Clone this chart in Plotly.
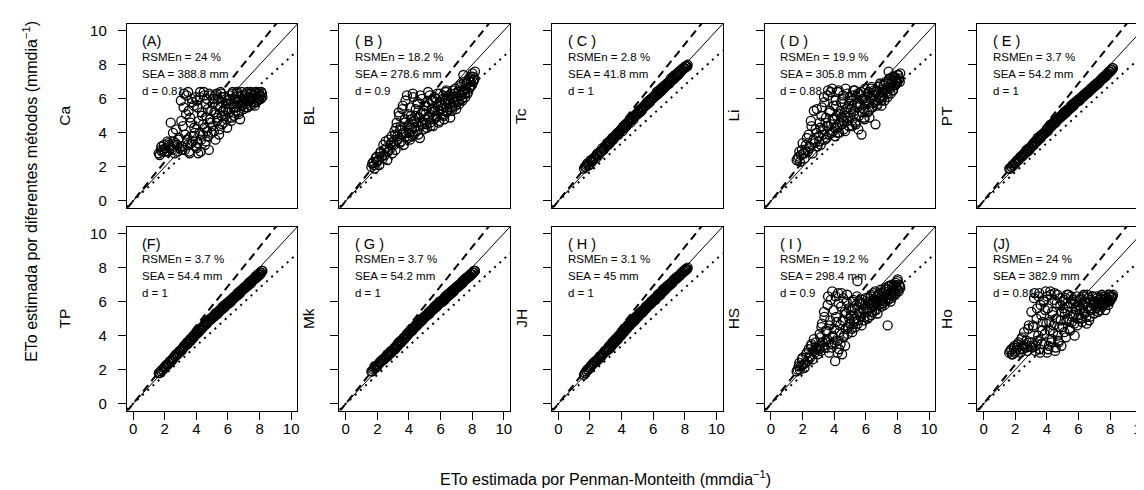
import plotly.graph_objects as go

# ETo Penman-Monteith (x, shared by all panels), two blocks of days
pm = [1.62, 1.75, 1.83, 1.95, 2.04, 2.12, 2.21, 2.33, 2.38, 2.47, 2.56, 2.63, 2.71, 2.78, 2.86, 2.94,
      3.02, 3.08, 3.15, 3.22, 3.27, 3.35, 3.41, 3.48, 3.55, 3.61, 3.68, 3.74, 3.81, 3.87, 3.93,
      4.01, 4.06, 4.12, 4.19, 4.24, 4.31, 4.37, 4.43, 4.5, 4.56, 4.62, 4.69, 4.75, 4.82, 4.88, 4.95,
      5.02, 5.08, 5.14, 5.21, 5.27, 5.34, 5.4, 5.47, 5.53, 5.6, 5.66, 5.73, 5.79, 5.86, 5.92, 5.98,
      6.04, 6.11, 6.17, 6.23, 6.3, 6.36, 6.42, 6.49, 6.55, 6.61, 6.68, 6.74, 6.8, 6.87, 6.93, 6.99,
      7.05, 7.12, 7.18, 7.25, 7.31, 7.38, 7.44, 7.51, 7.57, 7.63, 7.7, 7.76, 7.83, 7.89, 7.95, 8.02, 8.08, 8.15]
pm_b = [1.68, 1.79, 1.9, 2.0, 2.17, 2.27, 2.43, 2.52, 2.68, 2.82, 2.9,
        3.05, 3.12, 3.19, 3.3, 3.38, 3.45, 3.52, 3.58, 3.65, 3.71, 3.78, 3.84, 3.9, 3.97,
        4.03, 4.09, 4.15, 4.22, 4.28, 4.34, 4.4, 4.47, 4.53, 4.59, 4.66, 4.72, 4.79, 4.85, 4.92, 4.98,
        5.05, 5.11, 5.18, 5.24, 5.31, 5.37, 5.44, 5.5, 5.57, 5.63, 5.7, 5.76, 5.83, 5.89, 5.95,
        6.07, 6.14, 6.2, 6.27, 6.33, 6.39, 6.46, 6.52, 6.58, 6.65, 6.71, 6.77, 6.84, 6.9, 6.96,
        7.02, 7.09, 7.15, 7.22, 7.28, 7.35, 7.41, 7.48, 7.54, 7.6, 7.67, 7.73, 7.8, 7.86, 7.92, 7.98, 8.05, 8.11, 8.18]

ca = [2.8, 3.0, 2.9, 3.3, 3.1, 2.9, 3.4, 3.2, 4.6, 3.0, 3.5, 2.8, 4.2, 3.3, 3.6, 3.1,
      5.9, 3.2, 4.4, 6.3, 3.0, 5.1, 3.6, 6.4, 2.9, 4.9, 3.4, 5.8, 3.8, 4.3, 6.1,
      3.1, 5.5, 2.8, 4.0, 6.4, 3.6, 5.0, 4.5, 6.2, 3.3, 5.7, 4.1, 3.8, 6.3, 4.8, 5.3,
      4.4, 6.0, 5.2, 3.6, 6.3, 4.9, 5.6, 4.2, 6.4, 5.0, 5.8, 4.6, 6.1, 5.4, 4.8, 5.9,
      5.2, 6.2, 5.7, 4.9, 6.4, 5.5, 6.0, 5.3, 6.3, 5.8, 5.1, 6.1, 5.6, 6.4, 5.9, 5.4,
      6.0, 5.7, 6.3, 5.5, 6.1, 5.9, 6.4, 5.8, 6.2, 6.0, 5.6, 6.3, 6.1, 5.9, 6.4, 6.2, 6.0, 6.3]
ca_b = [2.7, 3.2, 3.0, 2.9, 3.5, 3.3, 3.1, 4.0, 3.4, 2.9, 3.7,
        4.7, 3.0, 5.5, 3.9, 6.2, 3.3, 5.3, 2.8, 4.6, 6.0, 3.5, 5.6, 4.0, 3.2,
        5.9, 3.4, 4.7, 6.1, 2.9, 5.2, 3.9, 6.4, 4.3, 3.5, 6.0, 5.4, 3.0, 4.6, 6.2, 4.0,
        5.7, 4.1, 6.2, 5.1, 4.7, 6.0, 3.9, 5.5, 6.3, 4.5, 5.3, 6.1, 5.0, 5.7, 4.3,
        6.0, 5.4, 4.7, 6.3, 5.7, 5.0, 6.1, 5.5, 6.4, 5.2, 5.9, 4.8, 6.2, 5.6, 6.0,
        5.8, 6.2, 5.5, 6.4, 5.9, 6.1, 5.6, 6.3, 6.0, 5.7, 6.2, 6.4, 5.8, 6.1, 6.3, 6.0, 6.2, 6.4, 6.1]
bl = [2.0, 2.3, 1.9, 2.6, 2.4, 2.1, 2.9, 2.5, 3.3, 2.7, 3.1, 2.4, 3.6, 3.0, 3.4, 2.8,
      3.5, 4.1, 3.0, 4.6, 3.8, 5.2, 3.4, 4.4, 3.9, 5.6, 3.3, 4.8, 4.0, 6.2, 3.7,
      4.5, 3.6, 5.0, 4.2, 6.3, 3.9, 4.7, 5.4, 4.1, 5.8, 4.4, 3.7, 5.1, 6.0, 4.6, 5.3,
      4.8, 5.6, 4.3, 6.4, 5.0, 4.6, 5.9, 5.2, 4.4, 6.1, 5.5, 4.9, 6.3, 5.3, 4.7, 5.8,
      5.6, 5.1, 6.2, 4.8, 5.9, 6.5, 5.3, 6.0, 5.7, 4.9, 6.3, 5.5, 6.1, 5.8, 6.6, 5.4,
      6.0, 6.4, 5.7, 6.8, 6.2, 5.9, 7.4, 6.5, 6.1, 6.9, 6.3, 7.1, 6.6, 7.3, 6.8, 7.5, 7.0, 7.2]
bl_b = [2.2, 2.1, 2.5, 2.3, 2.8, 2.6, 3.0, 3.5, 2.9, 3.3, 3.8,
        3.3, 3.9, 4.3, 3.6, 5.0, 4.2, 3.5, 5.4, 4.0, 4.6, 5.9, 3.8, 4.4, 5.1,
        4.0, 5.5, 4.8, 3.8, 6.1, 4.3, 5.0, 4.6, 5.7, 3.9, 4.9, 6.2, 4.5, 5.2, 4.2, 5.6,
        5.1, 4.5, 5.8, 4.9, 6.2, 4.4, 5.4, 5.9, 4.8, 5.3, 6.0, 5.0, 5.6, 4.6, 6.3,
        5.4, 6.0, 5.0, 5.7, 6.4, 5.2, 5.9, 6.2, 5.5, 6.1, 5.3, 6.5, 5.8, 6.3, 5.6,
        6.1, 5.8, 6.5, 6.2, 6.7, 6.0, 6.4, 7.0, 6.3, 6.6, 6.9, 6.4, 7.2, 6.7, 7.0, 6.8, 7.3, 7.1, 7.6]
tc = [1.9, 2.0, 2.2, 2.1, 2.4, 2.3, 2.5, 2.6, 2.5, 2.8, 2.7, 2.9, 2.9, 3.1, 3.0, 3.2,
      3.2, 3.4, 3.3, 3.5, 3.4, 3.6, 3.7, 3.6, 3.8, 3.8, 3.9, 4.0, 3.9, 4.1, 4.1,
      4.2, 4.1, 4.4, 4.3, 4.5, 4.4, 4.6, 4.6, 4.7, 4.6, 4.8, 4.9, 4.8, 5.0, 5.0, 5.1,
      5.1, 5.3, 5.2, 5.4, 5.3, 5.5, 5.5, 5.6, 5.6, 5.8, 5.7, 5.9, 5.8, 6.0, 6.0, 6.1,
      6.1, 6.2, 6.2, 6.4, 6.3, 6.5, 6.4, 6.6, 6.5, 6.7, 6.7, 6.8, 6.8, 6.9, 6.9, 7.0,
      7.0, 7.2, 7.1, 7.3, 7.2, 7.4, 7.3, 7.5, 7.4, 7.6, 7.6, 7.7, 7.7, 7.8, 7.8, 7.9, 7.9, 7.9]
tc_b = [2.0, 2.1, 2.1, 2.3, 2.4, 2.5, 2.7, 2.7, 2.9, 3.0, 3.1,
        3.3, 3.3, 3.4, 3.5, 3.6, 3.7, 3.7, 3.8, 3.9, 3.9, 4.0, 4.0, 4.1, 4.2,
        4.2, 4.3, 4.3, 4.4, 4.5, 4.5, 4.6, 4.7, 4.7, 4.8, 4.8, 4.9, 5.0, 5.0, 5.1, 5.1,
        5.2, 5.2, 5.3, 5.4, 5.4, 5.5, 5.6, 5.6, 5.7, 5.7, 5.8, 5.9, 5.9, 6.0, 6.0,
        6.1, 6.2, 6.2, 6.3, 6.3, 6.4, 6.5, 6.5, 6.6, 6.6, 6.7, 6.7, 6.8, 6.9, 6.9,
        6.9, 7.0, 7.1, 7.1, 7.2, 7.2, 7.3, 7.4, 7.4, 7.5, 7.5, 7.6, 7.7, 7.7, 7.8, 7.8, 7.9, 7.9, 8.0]
li = [2.4, 2.6, 2.3, 3.0, 2.8, 2.5, 3.3, 2.9, 3.9, 3.1, 4.4, 2.8, 5.3, 3.4, 4.0, 3.2,
      3.8, 4.6, 3.3, 5.5, 4.2, 6.1, 3.6, 4.9, 4.4, 6.5, 3.9, 5.2, 4.5, 6.6, 4.1,
      4.8, 3.8, 5.6, 4.3, 6.4, 4.0, 5.1, 5.8, 4.5, 6.2, 4.7, 4.1, 5.4, 6.3, 4.9, 5.7,
      5.0, 5.9, 4.4, 6.5, 5.3, 4.6, 6.1, 5.5, 4.2, 6.3, 5.7, 3.9, 6.0, 5.4, 4.8, 5.9,
      5.8, 5.2, 6.4, 4.9, 6.1, 6.7, 5.5, 6.2, 5.9, 4.5, 6.5, 5.7, 6.3, 6.0, 6.8, 5.6,
      6.2, 6.6, 5.9, 7.0, 6.4, 6.1, 7.6, 6.7, 6.3, 7.1, 6.5, 7.3, 6.8, 7.2, 6.9, 7.4, 7.1, 7.0]
li_b = [2.5, 2.9, 2.7, 3.4, 3.0, 3.7, 3.2, 4.7, 3.6, 4.2, 5.4,
        3.5, 4.3, 5.0, 3.9, 5.8, 4.6, 3.7, 6.2, 4.4, 5.3, 6.4, 4.0, 4.8, 5.6,
        4.3, 5.9, 5.0, 4.0, 6.5, 4.6, 5.3, 4.9, 6.0, 4.2, 5.2, 6.6, 4.7, 5.5, 4.4, 6.1,
        5.4, 4.7, 6.2, 5.1, 6.5, 4.5, 5.7, 6.3, 5.0, 5.6, 6.4, 5.2, 6.0, 4.9, 6.6,
        5.7, 6.3, 5.3, 6.0, 6.6, 5.5, 6.2, 6.5, 5.8, 6.4, 5.6, 6.7, 6.1, 6.9, 5.9,
        6.4, 6.1, 6.8, 6.5, 6.9, 6.3, 6.7, 7.2, 6.6, 6.9, 7.0, 6.5, 7.3, 6.8, 7.1, 7.0, 7.4, 7.2, 7.5]
pt = [1.9, 2.0, 2.1, 2.2, 2.3, 2.4, 2.4, 2.6, 2.6, 2.7, 2.8, 2.8, 3.0, 2.9, 3.1, 3.1,
      3.2, 3.3, 3.4, 3.4, 3.5, 3.5, 3.7, 3.6, 3.8, 3.7, 3.9, 3.9, 4.0, 4.0, 4.1,
      4.2, 4.1, 4.3, 4.3, 4.5, 4.4, 4.5, 4.6, 4.7, 4.6, 4.8, 4.8, 4.9, 4.9, 5.0, 5.0,
      5.1, 5.2, 5.2, 5.3, 5.3, 5.4, 5.4, 5.5, 5.6, 5.6, 5.7, 5.7, 5.8, 5.8, 5.9, 5.9,
      6.0, 6.0, 6.1, 6.1, 6.2, 6.2, 6.3, 6.3, 6.4, 6.4, 6.5, 6.5, 6.6, 6.6, 6.7, 6.7,
      6.8, 6.8, 6.9, 6.9, 7.0, 7.1, 7.1, 7.2, 7.2, 7.3, 7.3, 7.4, 7.5, 7.5, 7.6, 7.6, 7.7, 7.8]
pt_b = [1.9, 2.0, 2.1, 2.2, 2.4, 2.5, 2.6, 2.7, 2.9, 3.0, 3.0,
        3.2, 3.3, 3.3, 3.5, 3.5, 3.6, 3.7, 3.7, 3.8, 3.9, 3.9, 4.0, 4.0, 4.1,
        4.2, 4.2, 4.3, 4.4, 4.4, 4.5, 4.5, 4.6, 4.6, 4.7, 4.8, 4.8, 4.9, 4.9, 5.0, 5.0,
        5.1, 5.1, 5.2, 5.2, 5.3, 5.4, 5.4, 5.5, 5.5, 5.6, 5.6, 5.7, 5.8, 5.8, 5.9,
        5.9, 6.0, 6.1, 6.1, 6.2, 6.2, 6.3, 6.3, 6.4, 6.4, 6.5, 6.6, 6.6, 6.7, 6.7,
        6.8, 6.8, 6.9, 6.9, 7.0, 7.0, 7.1, 7.2, 7.2, 7.3, 7.3, 7.4, 7.4, 7.5, 7.6, 7.6, 7.7, 7.7, 7.8]
tp = [1.8, 1.9, 2.0, 2.1, 2.2, 2.3, 2.3, 2.5, 2.5, 2.6, 2.7, 2.8, 2.9, 2.9, 3.0, 3.1,
      3.1, 3.2, 3.3, 3.4, 3.4, 3.5, 3.6, 3.6, 3.7, 3.8, 3.8, 3.9, 4.0, 4.0, 4.1,
      4.1, 4.2, 4.2, 4.3, 4.4, 4.4, 4.5, 4.5, 4.6, 4.7, 4.7, 4.8, 4.9, 4.9, 5.0, 5.0,
      5.1, 5.1, 5.2, 5.3, 5.3, 5.4, 5.4, 5.5, 5.5, 5.6, 5.7, 5.7, 5.8, 5.8, 5.9, 5.9,
      6.0, 6.0, 6.1, 6.1, 6.2, 6.2, 6.3, 6.3, 6.4, 6.5, 6.5, 6.6, 6.6, 6.7, 6.7, 6.8,
      6.8, 6.9, 6.9, 7.0, 7.1, 7.1, 7.2, 7.2, 7.3, 7.3, 7.4, 7.5, 7.5, 7.6, 7.6, 7.7, 7.7, 7.8]
tp_b = [1.8, 1.9, 2.0, 2.1, 2.3, 2.4, 2.5, 2.6, 2.8, 2.9, 3.0,
        3.1, 3.2, 3.3, 3.4, 3.5, 3.5, 3.6, 3.7, 3.7, 3.8, 3.9, 3.9, 4.0, 4.1,
        4.1, 4.2, 4.2, 4.3, 4.4, 4.4, 4.5, 4.6, 4.6, 4.7, 4.7, 4.8, 4.9, 4.9, 5.0, 5.0,
        5.1, 5.1, 5.2, 5.2, 5.3, 5.3, 5.4, 5.5, 5.5, 5.6, 5.6, 5.7, 5.7, 5.8, 5.9,
        5.9, 6.0, 6.0, 6.1, 6.2, 6.2, 6.3, 6.3, 6.4, 6.4, 6.5, 6.5, 6.6, 6.7, 6.7,
        6.8, 6.8, 6.9, 6.9, 7.0, 7.0, 7.1, 7.1, 7.2, 7.3, 7.3, 7.4, 7.4, 7.5, 7.5, 7.6, 7.6, 7.7, 7.8]
mk = [1.9, 2.0, 2.2, 2.2, 2.3, 2.4, 2.5, 2.6, 2.6, 2.7, 2.8, 2.9, 2.9, 3.0, 3.1, 3.1,
      3.2, 3.3, 3.3, 3.4, 3.5, 3.6, 3.6, 3.7, 3.7, 3.8, 3.9, 3.9, 4.0, 4.1, 4.1,
      4.2, 4.2, 4.3, 4.4, 4.4, 4.5, 4.5, 4.6, 4.7, 4.7, 4.8, 4.8, 4.9, 5.0, 5.0, 5.1,
      5.1, 5.2, 5.2, 5.3, 5.4, 5.4, 5.5, 5.5, 5.6, 5.7, 5.7, 5.8, 5.8, 5.9, 6.0, 6.0,
      6.0, 6.1, 6.1, 6.2, 6.3, 6.3, 6.4, 6.4, 6.5, 6.5, 6.6, 6.6, 6.7, 6.7, 6.8, 6.8,
      6.9, 6.9, 7.0, 7.0, 7.1, 7.2, 7.2, 7.3, 7.3, 7.4, 7.4, 7.5, 7.5, 7.6, 7.6, 7.7, 7.7, 7.8]
mk_b = [1.9, 2.1, 2.1, 2.2, 2.4, 2.5, 2.6, 2.7, 2.8, 3.0, 3.0,
        3.2, 3.2, 3.3, 3.4, 3.5, 3.6, 3.6, 3.7, 3.8, 3.8, 3.9, 4.0, 4.0, 4.1,
        4.2, 4.2, 4.3, 4.3, 4.4, 4.5, 4.5, 4.6, 4.6, 4.7, 4.8, 4.8, 4.9, 4.9, 5.0, 5.1,
        5.1, 5.2, 5.2, 5.3, 5.3, 5.4, 5.5, 5.5, 5.6, 5.6, 5.7, 5.7, 5.8, 5.9, 5.9,
        6.0, 6.0, 6.1, 6.1, 6.2, 6.3, 6.3, 6.4, 6.4, 6.5, 6.5, 6.6, 6.6, 6.7, 6.8,
        6.8, 6.9, 6.9, 7.0, 7.0, 7.1, 7.1, 7.2, 7.3, 7.3, 7.4, 7.4, 7.5, 7.5, 7.6, 7.6, 7.7, 7.8, 7.8]
jh = [1.7, 1.9, 2.0, 2.1, 2.2, 2.3, 2.4, 2.5, 2.5, 2.6, 2.7, 2.8, 2.8, 2.9, 3.0, 3.1,
      3.1, 3.2, 3.3, 3.4, 3.4, 3.5, 3.6, 3.6, 3.7, 3.8, 3.8, 3.9, 4.0, 4.0, 4.1,
      4.2, 4.2, 4.3, 4.4, 4.4, 4.5, 4.6, 4.6, 4.7, 4.8, 4.8, 4.9, 5.0, 5.0, 5.1, 5.1,
      5.2, 5.2, 5.3, 5.4, 5.4, 5.5, 5.5, 5.6, 5.7, 5.7, 5.8, 5.8, 5.9, 6.0, 6.0, 6.1,
      6.1, 6.2, 6.2, 6.3, 6.4, 6.4, 6.5, 6.5, 6.6, 6.7, 6.7, 6.8, 6.8, 6.9, 6.9, 7.0,
      7.0, 7.1, 7.1, 7.2, 7.3, 7.3, 7.4, 7.4, 7.5, 7.5, 7.6, 7.6, 7.7, 7.7, 7.8, 7.8, 7.9, 7.9]
jh_b = [1.8, 1.9, 2.0, 2.1, 2.3, 2.4, 2.5, 2.6, 2.7, 2.9, 3.0,
        3.1, 3.2, 3.2, 3.3, 3.4, 3.5, 3.6, 3.6, 3.7, 3.8, 3.8, 3.9, 4.0, 4.0,
        4.1, 4.2, 4.2, 4.3, 4.4, 4.4, 4.5, 4.6, 4.6, 4.7, 4.8, 4.8, 4.9, 4.9, 5.0, 5.1,
        5.1, 5.2, 5.3, 5.3, 5.4, 5.4, 5.5, 5.6, 5.6, 5.7, 5.8, 5.8, 5.9, 5.9, 6.0,
        6.1, 6.1, 6.2, 6.3, 6.3, 6.4, 6.4, 6.5, 6.6, 6.6, 6.7, 6.7, 6.8, 6.9, 6.9,
        7.0, 7.0, 7.1, 7.1, 7.2, 7.3, 7.3, 7.4, 7.4, 7.5, 7.5, 7.6, 7.7, 7.7, 7.8, 7.8, 7.9, 7.9, 8.0]
hs = [1.9, 2.2, 2.0, 2.6, 2.3, 2.1, 2.9, 2.5, 3.2, 2.7, 3.5, 2.6, 3.8, 3.0, 3.3, 2.9,
      3.4, 4.1, 3.1, 4.7, 3.6, 5.4, 3.3, 4.3, 3.8, 6.3, 3.0, 4.9, 3.5, 6.6, 3.9,
      4.4, 2.5, 5.1, 3.7, 6.5, 3.2, 4.6, 5.7, 2.9, 6.2, 4.0, 3.4, 5.3, 6.4, 4.5, 5.0,
      4.7, 5.5, 4.2, 6.1, 5.0, 4.5, 5.8, 7.2, 4.9, 6.0, 5.3, 4.6, 5.9, 5.6, 5.1, 6.2,
      5.4, 5.0, 6.0, 5.6, 6.3, 5.2, 5.8, 6.5, 5.5, 6.1, 5.9, 5.3, 6.4, 6.0, 6.7, 5.7,
      6.1, 6.5, 5.8, 6.8, 6.2, 4.6, 6.9, 6.4, 6.0, 7.0, 6.3, 6.7, 6.5, 7.1, 6.8, 7.3, 6.6, 6.9]
hs_b = [2.0, 2.4, 2.2, 2.7, 2.4, 3.0, 2.8, 3.4, 3.1, 3.6, 3.2,
        3.2, 3.9, 4.5, 3.4, 5.1, 3.7, 4.2, 5.8, 3.6, 4.6, 6.1, 3.3, 4.0, 5.5,
        3.6, 6.3, 4.8, 3.0, 5.9, 4.2, 3.5, 6.5, 4.9, 3.9, 5.4, 4.4, 6.0, 4.1, 5.6, 4.7,
        5.2, 4.4, 6.0, 4.8, 5.6, 5.0, 6.3, 4.7, 5.4, 5.9, 5.1, 6.1, 5.5, 4.9, 5.8,
        5.6, 6.2, 5.1, 5.9, 6.4, 5.4, 6.1, 5.7, 6.6, 5.5, 6.0, 6.3, 5.8, 6.5, 6.1,
        6.3, 5.9, 6.6, 6.0, 6.7, 6.4, 6.1, 6.9, 6.5, 6.2, 6.8, 6.6, 7.0, 6.4, 6.9, 7.2, 6.7, 7.0, 6.8]
ho = [3.0, 3.2, 2.9, 3.4, 3.1, 3.3, 3.6, 3.0, 3.8, 3.2, 4.2, 3.5, 3.7, 3.1, 4.6, 3.4,
      5.4, 3.3, 4.5, 6.5, 3.1, 5.0, 3.7, 6.3, 3.2, 5.8, 3.5, 4.8, 6.0, 4.1, 6.6,
      3.0, 5.6, 3.4, 4.3, 6.4, 3.8, 5.2, 4.6, 6.5, 3.3, 5.9, 4.0, 3.6, 6.2, 4.9, 5.4,
      4.5, 6.1, 5.3, 3.9, 6.4, 5.0, 5.7, 4.3, 6.3, 5.1, 5.9, 4.7, 6.0, 5.5, 4.6, 5.8,
      5.2, 6.1, 5.6, 4.8, 6.3, 5.4, 5.9, 5.1, 6.4, 5.7, 4.9, 6.0, 5.5, 6.3, 5.8, 5.3,
      5.9, 5.6, 6.2, 5.4, 6.0, 5.8, 6.3, 5.7, 6.1, 5.9, 5.5, 6.2, 6.0, 5.8, 6.4, 6.1, 6.3, 6.3]
ho_b = [3.1, 2.9, 3.3, 3.0, 3.5, 3.2, 3.9, 3.4, 3.3, 4.4, 3.6,
        3.6, 4.6, 6.2, 3.4, 5.6, 4.0, 6.5, 3.0, 5.2, 4.3, 6.1, 3.5, 5.5, 4.7,
        6.3, 3.2, 4.8, 6.6, 3.6, 5.4, 4.2, 6.1, 3.1, 5.0, 6.4, 3.7, 4.5, 5.8, 3.4, 6.0,
        5.6, 4.2, 6.2, 4.9, 5.4, 6.4, 4.4, 5.9, 4.8, 6.1, 5.2, 4.0, 5.7, 6.3, 5.0,
        5.5, 6.2, 5.0, 5.8, 6.4, 5.3, 6.0, 4.7, 5.7, 6.2, 5.1, 6.1, 5.6, 6.3, 5.9,
        6.0, 5.7, 6.3, 5.9, 6.1, 5.5, 6.2, 6.4, 5.8, 6.0, 6.3, 5.9, 6.2, 6.1, 6.4, 6.0, 6.3, 6.2, 6.4]

methods = ["Ca", "BL", "Tc", "Li", "PT", "TP", "Mk", "JH", "HS", "Ho"]
series = [ca, bl, tc, li, pt, tp, mk, jh, hs, ho]
series_b = [ca_b, bl_b, tc_b, li_b, pt_b, tp_b, mk_b, jh_b, hs_b, ho_b]
tags = ["(A)", "( B )", "( C )", "( D )", "( E )", "(F)", "( G )", "( H )", "( I )", "(J)"]
rsmen = ["24", "18.2", "2.8", "19.9", "3.7", "3.7", "3.7", "3.1", "19.2", "24"]
sea = ["388.8", "278.6", "41.8", "305.8", "54.2", "54.4", "54.2", "45", "298.4", "382.9"]
dval = ["0.81", "0.9", "1", "0.88", "1", "1", "1", "1", "0.9", "0.81"]
ref_slopes = [1.0, 1.15, 0.85]
ref_dash = ["solid", "8px,5px", "2px,5px"]
ref_width = [1, 2, 2]
ticks = [0, 2, 4, 6, 8, 10]

for s in series:
    assert len(s) == len(pm), len(s)
for s in series_b:
    assert len(s) == len(pm_b), len(s)

W, H = 1144, 490
FONT = "Liberation Sans, Arial, sans-serif"
col_left = [119, 332, 545, 758, 971]
row_top = [14, 218]
pw, ph = 171, 185
rng = [-0.4, 10.4]

fig = go.Figure()
layout = dict(width=W, height=H, margin=dict(l=0, r=0, t=0, b=0),
              paper_bgcolor="white", plot_bgcolor="white", showlegend=False,
              font=dict(family=FONT, color="black"))
annotations = []

for i in range(10):
    r, c = divmod(i, 5)
    n = i + 1
    xa = "x" if n == 1 else f"x{n}"
    ya = "y" if n == 1 else f"y{n}"
    left, top = col_left[c], row_top[r]
    layout[f"xaxis{'' if n == 1 else n}"] = dict(
        domain=[left / W, (left + pw) / W], range=rng, anchor=ya,
        showgrid=False, zeroline=False, showline=True, mirror=True,
        linecolor="black", linewidth=1,
        tickmode="array", tickvals=ticks,
        ticks="outside" if r == 1 else "", ticklen=8, tickcolor="black",
        showticklabels=(r == 1), tickfont=dict(size=15, family=FONT),
        ticklabelstandoff=-4)
    layout[f"yaxis{'' if n == 1 else n}"] = dict(
        domain=[1 - (top + ph) / H, 1 - top / H], range=rng, anchor=xa,
        showgrid=False, zeroline=False, showline=True, mirror=True,
        linecolor="black", linewidth=1,
        tickmode="array", tickvals=ticks,
        ticks="outside", ticklen=8, tickcolor="black",
        showticklabels=(c == 0), tickfont=dict(size=15, family=FONT),
        ticklabelstandoff=8)
    # reference lines
    for s, dsh, wd in zip(ref_slopes, ref_dash, ref_width):
        fig.add_trace(go.Scatter(x=rng, y=[rng[0] * s, rng[1] * s], mode="lines",
                                 line=dict(color="black", width=wd, dash=dsh),
                                 xaxis=xa, yaxis=ya, hoverinfo="skip"))
    fig.add_trace(go.Scatter(x=pm + pm_b, y=series[i] + series_b[i], mode="markers",
                             marker=dict(symbol="circle-open", size=9, color="black",
                                         line=dict(width=1.3, color="black")),
                             xaxis=xa, yaxis=ya))
    tx = (left + 13.5) / W
    annotations.append(dict(text=tags[i], x=tx, y=1 - (top + 17) / H, xref="paper", yref="paper",
                            xanchor="left", yanchor="middle", showarrow=False,
                            font=dict(size=14.5, family=FONT)))
    for k, t in enumerate([f"RSMEn = {rsmen[i]} %", f"SEA = {sea[i]} mm", f"d = {dval[i]}"]):
        annotations.append(dict(text=t, x=tx, y=1 - (top + 33 + 17 * k) / H,
                                xref="paper", yref="paper", xanchor="left", yanchor="middle",
                                showarrow=False, font=dict(size=11.5, family=FONT)))
    lab_off = 62 if c == 0 else 31
    annotations.append(dict(text=methods[i], x=(left - lab_off) / W, y=1 - (top + ph / 2) / H,
                            xref="paper", yref="paper", xanchor="center", yanchor="middle",
                            textangle=-90, showarrow=False, font=dict(size=15.5, family=FONT)))

annotations.append(dict(text="ETo estimada por diferentes métodos (mmdia<sup>−1</sup>)",
                        x=22 / W, y=1 - 182 / H, xref="paper", yref="paper",
                        xanchor="center", yanchor="middle", textangle=-90, showarrow=False,
                        font=dict(size=16, family=FONT)))
annotations.append(dict(text="ETo estimada por Penman-Monteith (mmdia<sup>−1</sup>)",
                        x=599 / W, y=1 - 471 / H, xref="paper", yref="paper",
                        xanchor="center", yanchor="middle", showarrow=False,
                        font=dict(size=16, family=FONT)))
layout["annotations"] = annotations
fig.update_layout(**layout)
fig.write_html("out.html")
